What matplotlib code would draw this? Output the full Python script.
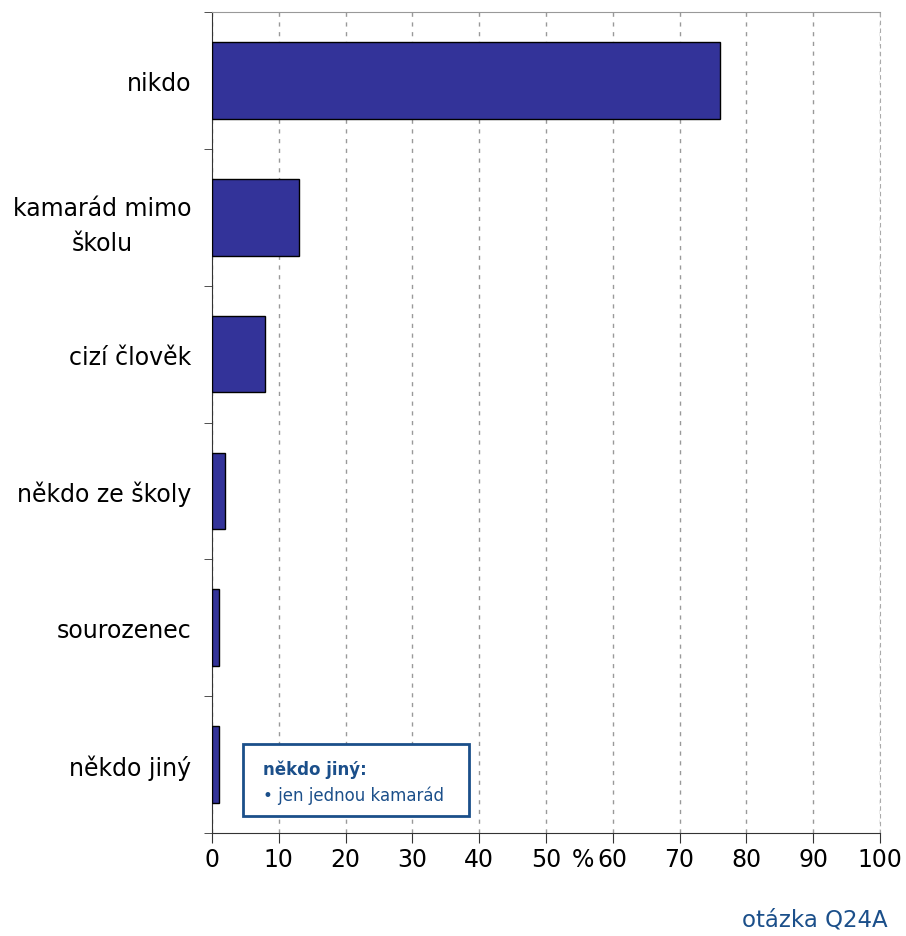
import numpy as np
import matplotlib.pyplot as plt
from matplotlib.patches import Rectangle

# data
kategorie = ["nikdo", "kamarád mimo\nškolu", "cizí člověk", "někdo ze školy", "sourozenec", "někdo jiný"]
hodnoty = [76, 13, 8, 2, 1, 1]
xticky = [0, 10, 20, 30, 40, 50, 60, 70, 80, 90, 100]

modra = "#1B4F8A"

fig = plt.figure(figsize=(9.06, 9.37), dpi=100)
ax = fig.add_axes([212/906, 1-834/937, (880-212)/906, (834-13)/937])

y = np.arange(len(kategorie))
ax.barh(y, hodnoty, height=0.56, color="#333399", edgecolor="black", linewidth=1, zorder=3)
ax.set_ylim(len(kategorie)-0.5, -0.5)
ax.set_xlim(0, 100)

ax.set_yticks(y)
ax.set_yticklabels(kategorie, fontsize=17, ha="right", multialignment="center", linespacing=1.6)
ax.tick_params(axis="y", length=0, pad=15)
ax.set_yticks(np.arange(-0.5, len(kategorie)), minor=True)
ax.tick_params(axis="y", which="minor", length=6, direction="out", color="#333333")

ax.set_xticks(xticky)
ax.set_xticklabels([str(v) for v in xticky], fontsize=17)
ax.tick_params(axis="x", length=7, direction="out", color="#333333", pad=3)
fig.text(583/906, 1-860/937, "%", fontsize=17, ha="center", va="center")

ax.grid(axis="x", linestyle=(0, (3, 4)), color="#999999", linewidth=1, zorder=0)
ax.spines["left"].set_color("#333333")
ax.spines["bottom"].set_color("#333333")
ax.spines["top"].set_color("#999999")
ax.spines["right"].set_color("#aaaaaa")
ax.spines["right"].set_linestyle((0, (3, 4)))

# poznamka
box = Rectangle((243/906, 1-817/937), (469-243)/906, (817-745)/937, transform=fig.transFigure,
                facecolor="white", edgecolor=modra, linewidth=2, zorder=5)
fig.add_artist(box)
fig.text(263/906, 1-770/937, "někdo jiný:", fontsize=12, fontweight="bold", color=modra, va="center", zorder=6)
fig.text(263/906, 1-796/937, "• jen jednou kamarád", fontsize=12, color=modra, va="center", zorder=6)

fig.text(888/906, 1-920/937, "otázka Q24A", fontsize=16.5, color=modra, ha="right", va="center")

fig.savefig("out.png", dpi=100)
